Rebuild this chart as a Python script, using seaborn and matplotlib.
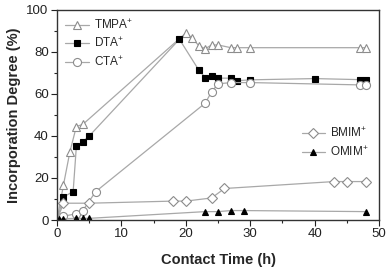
import numpy as np
import pandas as pd
import matplotlib
matplotlib.use("Agg")
import matplotlib.pyplot as plt
import seaborn as sns

# Contact time (h) and incorporation degree (%) per cation
tmpa_t = [0, 1, 2, 3, 4, 20, 21, 22, 23, 24, 25, 27, 28, 30, 47, 48]
tmpa_y = [0, 16.7, 32.5, 44.5, 45.5, 89, 86.5, 83, 81.5, 83.3, 83.3, 82, 82, 82, 82, 82]

dta_t = [0, 1, 2.5, 3, 4, 5, 19, 22, 23, 24, 25, 27, 28, 30, 40, 47, 48]
dta_y = [0, 11, 13.5, 35, 37.3, 40, 86, 71.4, 67.8, 68.3, 67.5, 67.5, 66.3, 66.7, 67.3, 66.8, 66.8]

cta_t = [0, 1, 3, 4, 6, 23, 24, 25, 27, 30, 47, 48]
cta_y = [0, 1.8, 3, 4.5, 13.5, 55.6, 61, 64.8, 65.4, 65.4, 64.3, 64.3]

bmim_t = [0, 1, 5, 18, 20, 24, 26, 43, 45, 48]
bmim_y = [0, 8, 8, 9, 9, 10.5, 15, 18.3, 18.3, 18.3]

omim_t = [0.3, 1, 3, 4, 5, 23, 25, 27, 29, 48]
omim_y = [0.6, 0.6, 0.8, 0.8, 0.8, 4, 4, 4.5, 4.5, 4]

sns.set_theme(style="ticks")
plt.rcParams['font.family'] = ['Liberation Sans', 'DejaVu Sans']
plt.rcParams['mathtext.fontset'] = 'custom'
plt.rcParams['mathtext.rm'] = 'Liberation Sans'

fig = plt.figure(figsize=(3.88, 2.74), dpi=100)
ax = fig.add_axes([0.147, 0.197, 0.83, 0.767])

line_col = '#a8a8a8'
open_col = '#8c8c8c'

series = [
    ('TMPA$^{+}$', tmpa_t, tmpa_y, '^', 'white', open_col, 6.3, True),
    ('DTA$^{+}$', dta_t, dta_y, 's', 'black', 'black', 4.8, True),
    ('CTA$^{+}$', cta_t, cta_y, 'o', 'white', open_col, 5.8, True),
    ('BMIM$^{+}$', bmim_t, bmim_y, 'D', 'white', open_col, 5.2, True),
    ('OMIM$^{+}$', omim_t, omim_y, '^', 'black', 'black', 5.0, False),
]

handles = {}
for name, t, y, mk, fc, ec, ms, skip0 in series:
    df = pd.DataFrame({'t': t, 'y': y})
    sns.lineplot(data=df, x='t', y='y', ax=ax, sort=False, estimator=None,
                 color=line_col, linewidth=0.9, marker=mk, markersize=ms,
                 markerfacecolor=fc, markeredgecolor=ec, markeredgewidth=0.8,
                 markevery=slice(1, None) if skip0 else None, label=name)
    handles[name] = ax.get_lines()[-1]

ax.set_xlim(0, 50)
ax.set_ylim(0, 100)
ax.set_xticks(range(0, 51, 10))
ax.set_xticks(range(5, 50, 10), minor=True)
ax.set_yticks(range(0, 101, 20))
ax.set_yticks(range(10, 100, 20), minor=True)
ax.tick_params(axis='both', which='major', direction='out', length=4, width=0.8,
               labelsize=9.5, colors='#222222', pad=2)
ax.tick_params(axis='both', which='minor', direction='out', length=2.5, width=0.8)
for s in ax.spines.values():
    s.set_linewidth(1.0)
    s.set_color('#333333')

ax.set_xlabel('Contact Time (h)', fontsize=10.5, fontweight='bold', labelpad=9)
ax.set_ylabel('Incorporation Degree (%)', fontsize=10.5, fontweight='bold', labelpad=4)

names = [s[0] for s in series]
leg1 = ax.legend([handles[n] for n in names[:3]], names[:3], loc='upper left',
                 frameon=False, fontsize=8.5, handlelength=2.0, handletextpad=0.4,
                 labelspacing=0.4, borderaxespad=0.3, bbox_to_anchor=(0.0, 1.0))
ax.add_artist(leg1)
ax.legend([handles[n] for n in names[3:]], names[3:], loc='lower right',
          frameon=False, fontsize=8.5, handlelength=2.0, handletextpad=0.4,
          labelspacing=0.4, bbox_to_anchor=(1.0, 0.24))

fig.savefig('out.png', dpi=100)
